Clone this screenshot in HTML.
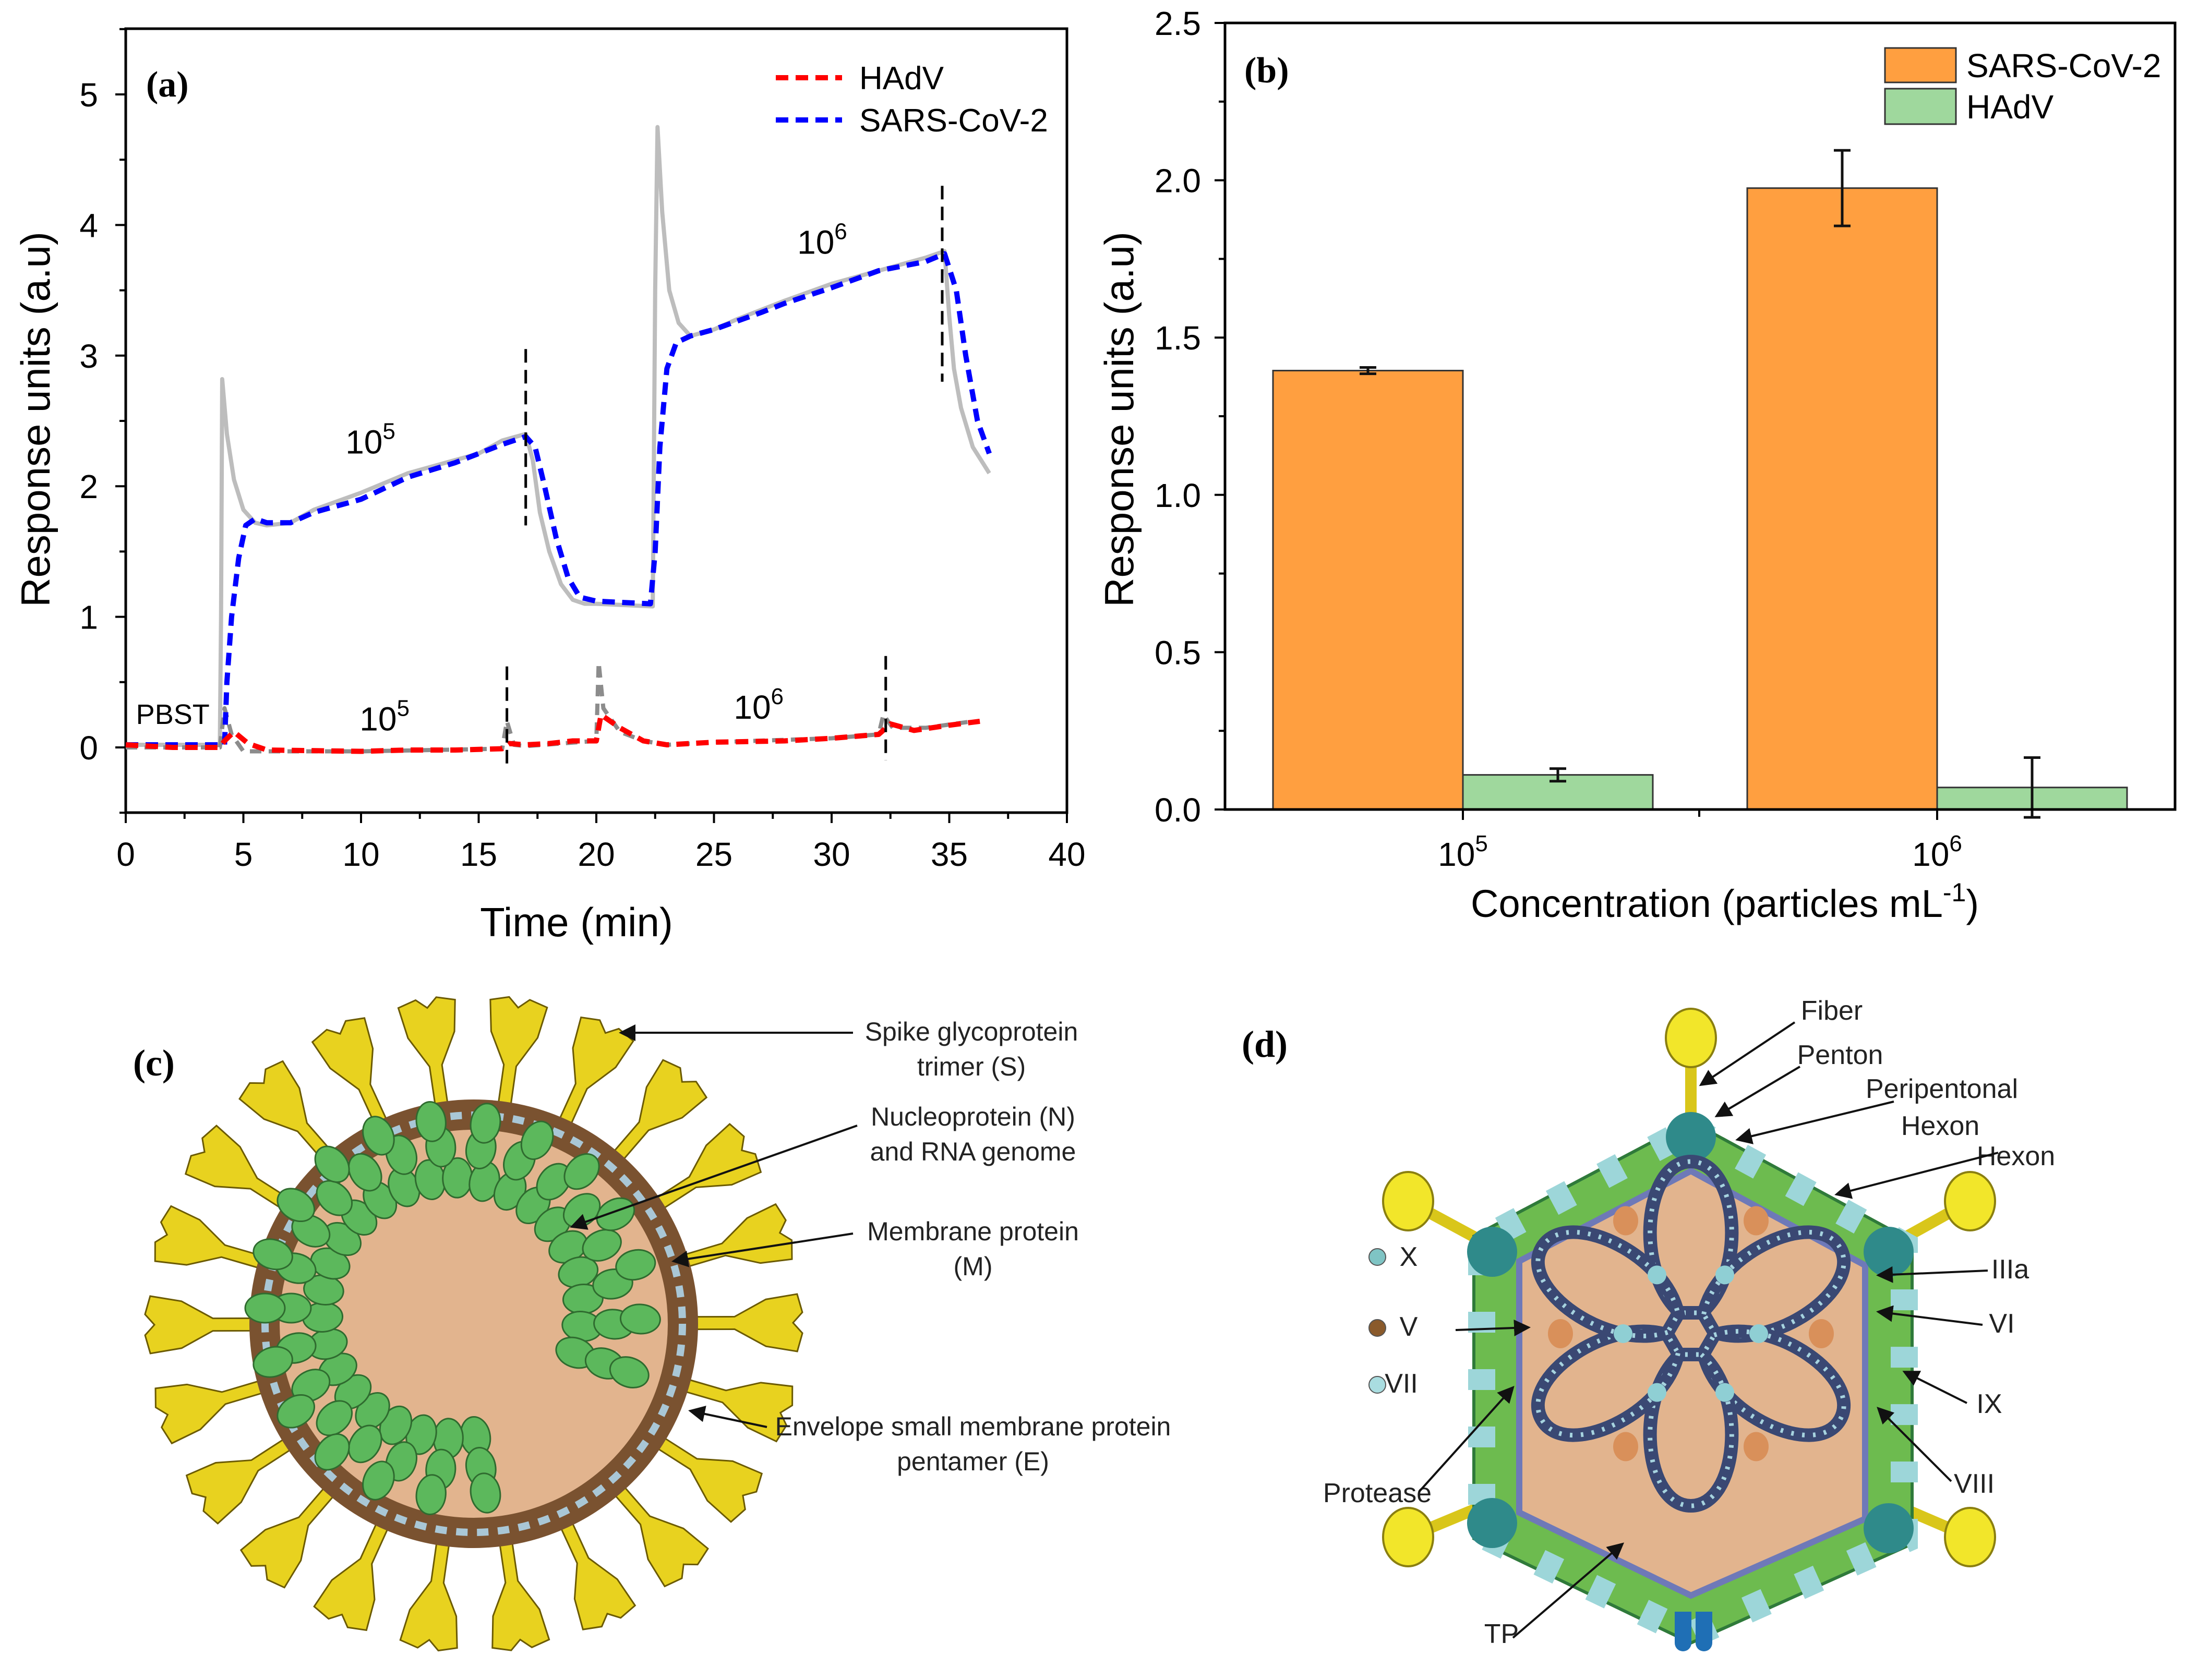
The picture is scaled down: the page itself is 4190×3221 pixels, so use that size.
<!DOCTYPE html>
<html><head><meta charset="utf-8"><style>
html,body{margin:0;padding:0;background:#fff;}
svg{display:block;}
text{font-family:"Liberation Sans",sans-serif;}
.ser{font-family:"Liberation Serif",serif;}
.nar{font-family:"Liberation Sans Narrow","Liberation Sans",sans-serif;}
</style></head><body>
<svg id="fig" xmlns="http://www.w3.org/2000/svg" width="4190" height="3221" viewBox="0 0 4190 3221">
<g id="pa"></g>
<g id="pb"></g>
<g id="pc"></g>
<g id="pd"></g>
</svg>
<script>
// ---------- Panel A data ----------
const xTicksA=[0,5,10,15,20,25,30,35,40];
const yTicksA=[0,1,2,3,4,5];
const sarsRawT=[0,2,4,4.05,4.1,4.3,4.6,5.0,5.5,6,7,8,10,12,14,15,16,17,17.3,17.6,18,18.5,19,19.5,20,22.4,22.5,22.6,22.8,23.1,23.5,24,25,26,27,28,30,32,34,34.8,35,35.2,35.5,36,36.7];
const sarsRawV=[0.02,0.02,0.02,1.0,2.82,2.4,2.05,1.82,1.72,1.70,1.72,1.82,1.95,2.1,2.2,2.25,2.35,2.4,2.2,1.8,1.5,1.25,1.13,1.1,1.1,1.08,3.5,4.75,4.1,3.5,3.25,3.15,3.2,3.28,3.35,3.42,3.55,3.65,3.75,3.8,3.3,2.9,2.6,2.3,2.1];
const sarsT=[0,2,4.2,4.3,4.5,4.8,5.1,5.5,6,7,8,10,12,14,15,16,17,17.4,17.8,18.3,18.8,19.3,20,22.3,22.5,22.7,23,23.4,24,25,27,28,30,32,34,34.8,35.3,35.7,36.2,36.7];
const sarsV=[0.02,0.02,0.02,0.5,1.0,1.45,1.7,1.75,1.72,1.72,1.8,1.9,2.07,2.18,2.25,2.32,2.38,2.3,2.0,1.6,1.3,1.15,1.12,1.1,1.5,2.3,2.9,3.1,3.15,3.2,3.33,3.4,3.52,3.65,3.72,3.78,3.5,3.0,2.5,2.25];
const hadvT=[0,2,4,4.2,4.6,5.2,6,10,12,14,16,16.3,17,18,19,20,20.2,21,22,23,25,28,30,32,32.5,33.5,35,36.3];
const hadvV=[0.02,0.0,0.0,0.05,0.12,0.03,-0.02,-0.03,-0.02,-0.02,-0.01,0.03,0.02,0.03,0.05,0.05,0.25,0.15,0.05,0.02,0.04,0.05,0.07,0.1,0.18,0.13,0.17,0.2];
const hadvRawT=[0,4.0,4.2,4.5,5,6,10,16,16.2,16.5,17,20,20.1,20.3,21,22,23,25,30,32,32.2,32.6,34,36];
const hadvRawV=[0.0,0.0,0.3,0.1,-0.03,-0.03,-0.03,-0.01,0.2,0.02,0.01,0.05,0.65,0.3,0.12,0.05,0.02,0.04,0.07,0.1,0.25,0.15,0.15,0.2];
const markerX=[17.0,34.7,16.2,32.3];
const markerLo=[1.7,2.8,-0.15,-0.1];
const markerHi=[3.05,4.3,0.62,0.7];
// ---------- Panel B data ----------
const catsB=["5","6"];
const sarsBar=[1.395,1.975];
const sarsErr=[0.01,0.12];
const hadvBar=[0.11,0.07];
const hadvErr=[0.02,0.095];
const yTicksB=["0.0","0.5","1.0","1.5","2.0","2.5"];

const NS="http://www.w3.org/2000/svg";
function mk(parent,tag,attrs,txt){const e=document.createElementNS(NS,tag);for(const k in attrs)e.setAttribute(k,attrs[k]);if(txt!==undefined)e.textContent=txt;parent.appendChild(e);return e;}

// ===== Panel A =====
(function(){
const g=document.getElementById('pa');
const L=241,R=2045,T=55,B=1558;
const xa=t=>L+t*(R-L)/40;
const ya=v=>1433-v*250.4;
let e=mk(g,'rect',{x:L,y:T,width:R-L,height:B-T,fill:'none',stroke:'#000','stroke-width':5});

for(let t=0;t<=40;t+=2.5){const maj=t%5===0;e=mk(g,'line',{x1:xa(t),x2:xa(t),y1:B,y2:B+(maj?20:12),stroke:'#000','stroke-width':4});}
for(let v=-0.5;v<=5.5;v+=0.5){const maj=Math.abs(v-Math.round(v))<1e-6;e=mk(g,'line',{x1:L,x2:L-(maj?20:12),y1:ya(v),y2:ya(v),stroke:'#000','stroke-width':4});}
xTicksA.forEach(t=>{e=mk(g,'text',{x:xa(t),y:1660,'font-size':64,'text-anchor':'middle'},String(t));});
yTicksA.forEach(v=>{e=mk(g,'text',{x:188,y:ya(v)+23,'font-size':64,'text-anchor':'end'},String(v));});
e=mk(g,'text',{x:1105,y:1795,'font-size':78,'text-anchor':'middle'},'Time (min)');
e=mk(g,'text',{x:0,y:0,'font-size':78,'text-anchor':'middle',transform:'translate(95,804) rotate(-90)'},'Response units (a.u)');
function path(T_,V_,attrs,name){const d=T_.map((t,i)=>(i?'L':'M')+xa(t).toFixed(1)+' '+ya(V_[i]).toFixed(1)).join(' ');const p=mk(g,'path',Object.assign({d:d,fill:'none','stroke-linejoin':'round'},attrs));}
path(sarsRawT,sarsRawV,{stroke:'#bdbdbd','stroke-width':8},'sars-raw-line');
path(hadvRawT,hadvRawV,{stroke:'#8c8c8c','stroke-width':8,'stroke-dasharray':'22 14'},'hadv-raw-line');
path(sarsT,sarsV,{stroke:'#0000ff','stroke-width':10,'stroke-dasharray':'24 14'},'sars-cov-2-line');
path(hadvT,hadvV,{stroke:'#ff0000','stroke-width':10,'stroke-dasharray':'24 14'},'hadv-line');
markerX.forEach((x,i)=>{e=mk(g,'line',{x1:xa(x),x2:xa(x),y1:ya(markerHi[i]),y2:ya(markerLo[i]),stroke:'#000','stroke-width':5,'stroke-dasharray':'26 14'});});
function sup(x,y,s,name){const t=mk(g,'text',{x:x,y:y,'font-size':64,'text-anchor':'middle'});mk(t,'tspan',{},'10');mk(t,'tspan',{'font-size':44,dy:-28},s);}
sup(xa(10.4),ya(2.25),'5','annotation-1e5-sars');
sup(xa(29.6),ya(3.78),'6','annotation-1e6-sars');
sup(xa(11.0),ya(0.13),'5','annotation-1e5-hadv');
sup(xa(26.9),ya(0.22),'6','annotation-1e6-hadv');
e=mk(g,'text',{x:xa(2.0),y:ya(0.18),'font-size':54,'text-anchor':'middle'},'PBST');
e=mk(g,'text',{x:280,y:185,'font-size':70,'font-weight':'bold','class':'ser'},'(a)');
e=mk(g,'line',{x1:1487,x2:1614,y1:149,y2:149,stroke:'#ff0000','stroke-width':10,'stroke-dasharray':'24 14'});
e=mk(g,'text',{x:1647,y:171,'font-size':62},'HAdV');
e=mk(g,'line',{x1:1487,x2:1614,y1:230,y2:230,stroke:'#0000ff','stroke-width':10,'stroke-dasharray':'24 14'});
e=mk(g,'text',{x:1647,y:252,'font-size':62},'SARS-CoV-2');
})();

// ===== Panel B =====
(function(){
const g=document.getElementById('pb');
const L=2348,R=4169,T=44,B=1552;
const yb=v=>B-v*603.2;
const xc=i=>2804+i*909;
const bw=364;
let e;
catsB.forEach((c,i)=>{
 e=mk(g,'rect',{x:xc(i)-bw,y:yb(sarsBar[i]),width:bw,height:B-yb(sarsBar[i]),fill:'#ff9f40',stroke:'#333','stroke-width':3});
 e=mk(g,'rect',{x:xc(i),y:yb(hadvBar[i]),width:bw,height:B-yb(hadvBar[i]),fill:'#9fd89d',stroke:'#333','stroke-width':3});
 const ex=[xc(i)-bw/2,xc(i)+bw/2],ev=[sarsBar[i],hadvBar[i]],ee=[sarsErr[i],hadvErr[i]];
 for(let k=0;k<2;k++){const top=yb(ev[k]+ee[k]),bot=yb(ev[k]-ee[k]);
  e=mk(g,'path',{d:`M${ex[k]} ${top}V${bot}M${ex[k]-16} ${top}H${ex[k]+16}M${ex[k]-16} ${bot}H${ex[k]+16}`,stroke:'#111','stroke-width':5,fill:'none'});}
 e=mk(g,'line',{x1:xc(i),x2:xc(i),y1:B,y2:B+20,stroke:'#000','stroke-width':4});
 const t=mk(g,'text',{x:xc(i),y:1660,'font-size':64,'text-anchor':'middle'});mk(t,'tspan',{},'10');mk(t,'tspan',{'font-size':44,dy:-28},c);
});
e=mk(g,'line',{x1:3257,x2:3257,y1:B,y2:B+14,stroke:'#000','stroke-width':4});
e=mk(g,'rect',{x:L,y:T,width:R-L,height:B-T,fill:'none',stroke:'#000','stroke-width':5});
for(let v=0;v<=2.5001;v+=0.25){const maj=Math.abs(v*2-Math.round(v*2))<1e-6;e=mk(g,'line',{x1:L,x2:L-(maj?20:12),y1:yb(v),y2:yb(v),stroke:'#000','stroke-width':4});}
yTicksB.forEach(s=>{e=mk(g,'text',{x:2302,y:yb(parseFloat(s))+23,'font-size':64,'text-anchor':'end'},s);});
e=mk(g,'text',{x:0,y:0,'font-size':78,'text-anchor':'middle',transform:'translate(2172,804) rotate(-90)'},'Response units (a.u)');
const xt=mk(g,'text',{x:3306,y:1758,'font-size':74,'text-anchor':'middle'});mk(xt,'tspan',{},'Concentration (particles mL');mk(xt,'tspan',{'font-size':50,dy:-30},'-1');mk(xt,'tspan',{dy:30},')');
e=mk(g,'text',{x:2385,y:158,'font-size':70,'font-weight':'bold','class':'ser'},'(b)');
e=mk(g,'rect',{x:3613,y:92,width:136,height:66,fill:'#ff9f40',stroke:'#333','stroke-width':3});
e=mk(g,'text',{x:3769,y:148,'font-size':64},'SARS-CoV-2');
e=mk(g,'rect',{x:3613,y:170,width:136,height:68,fill:'#9fd89d',stroke:'#333','stroke-width':3});
e=mk(g,'text',{x:3769,y:227,'font-size':64},'HAdV');
})();

// ===== Panel C (illustration) =====
(function(){
const g=document.getElementById('pc');
const cx=908,cy=2538;let e;
e=mk(g,'text',{x:255,y:2062,'font-size':72,'font-weight':'bold','class':'ser'},'(c)');
for(let k=0;k<22;k++){const a=k*360/22-90+8;
 e=mk(g,'path',{d:'M-12 425 L-12 500 L-45 560 L-55 620 L-20 630 L0 612 L20 630 L55 620 L45 560 L12 500 L12 425 Z',fill:'#e8d21f',stroke:'#6b5a00','stroke-width':3,transform:`translate(${cx},${cy}) rotate(${a-90})`});
 }
e=mk(g,'circle',{cx:cx,cy:cy,r:430,fill:'#7a5230'});
e=mk(g,'circle',{cx:cx,cy:cy,r:400,fill:'none',stroke:'#a9c7d6','stroke-width':14,'stroke-dasharray':'22 18'});
e=mk(g,'circle',{cx:cx,cy:cy,r:372,fill:'#e2b48e'});
[[250,26],[310,22],[360,19]].forEach(([r,n])=>{
 for(let i=0;i<n;i++){const a=(80+i*(300/(n-1)))*Math.PI/180;
  const x=cx+r*Math.cos(a)-40,y=cy+r*Math.sin(a)-30;
  e=mk(g,'ellipse',{cx:x.toFixed(1),cy:y.toFixed(1),rx:28,ry:38,fill:'#5cb85c',stroke:'#2f6b2f','stroke-width':3,transform:`rotate(${(a*180/Math.PI+90).toFixed(1)} ${x.toFixed(1)} ${y.toFixed(1)})`});
  }});
const labels=[[1862,1995,'Spike glycoprotein'],[1862,2062,'trimer (S)'],[1865,2158,'Nucleoprotein (N)'],[1865,2225,'and RNA genome'],[1865,2378,'Membrane protein'],[1865,2445,'(M)'],[1865,2752,'Envelope small membrane protein'],[1865,2819,'pentamer (E)']];
labels.forEach(l=>{e=mk(g,'text',{x:l[0],y:l[1],'font-size':50,'text-anchor':'middle','class':'nar',fill:'#222'},l[2]);});
mk(g,'defs',{}).innerHTML='<marker id="ah" markerWidth="8" markerHeight="8" refX="7" refY="4" orient="auto" markerUnits="strokeWidth"><path d="M0 0L8 4L0 8Z" fill="#111"/></marker>';
[[1635,1980,1190,1980],[1643,2158,1096,2352],[1635,2365,1291,2418],[1470,2736,1323,2705]].forEach(a=>{e=mk(g,'line',{x1:a[0],y1:a[1],x2:a[2],y2:a[3],stroke:'#111','stroke-width':4,'marker-end':'url(#ah)'});});
})();

// ===== Panel D (illustration) =====
(function(){
const g=document.getElementById('pd');let e;
const cx=3241,cy=2557;
e=mk(g,'text',{x:2380,y:2026,'font-size':72,'font-weight':'bold','class':'ser'},'(d)');
const knobs=[[3241,1990],[2699,2303],[3776,2303],[2699,2947],[3776,2947]];
const bases=[[3241,2160],[2860,2390],[3620,2390],[2860,2880],[3620,2880]];
knobs.forEach((k,i)=>{e=mk(g,'line',{x1:bases[i][0],y1:bases[i][1],x2:k[0],y2:k[1],stroke:'#d9c61a','stroke-width':22});
 e=mk(g,'ellipse',{cx:k[0],cy:k[1],rx:48,ry:56,fill:'#f2e62a',stroke:'#8a7f10','stroke-width':4});});
e=mk(g,'polygon',{points:'3241,2150 3665,2380 3665,2960 3241,3150 2825,2950 2825,2370',fill:'#6dbb4f',stroke:'#2f7a3a','stroke-width':6});
e=mk(g,'polygon',{points:'3241,2165 3650,2388 3650,2952 3241,3135 2840,2942 2840,2378',fill:'none',stroke:'#9dd6d9','stroke-width':52,'stroke-dasharray':'40 70'});
e=mk(g,'polygon',{points:'3241,2245 3575,2426 3575,2912 3241,3059 2912,2900 2912,2418',fill:'#e2b48e',stroke:'#6e79b8','stroke-width':12});
[[3241,2180],[3620,2400],[3620,2930],[2860,2920],[2860,2400]].forEach(p=>{e=mk(g,'circle',{cx:p[0],cy:p[1],r:48,fill:'#2f8a8a'});});
e=mk(g,'path',{d:'M3210 3090 v60 a16 16 0 0 0 32 0 v-60 Z M3250 3090 v60 a16 16 0 0 0 32 0 v-60 Z',fill:'#1f6fb5'});
for(let k=0;k<6;k++){const a=-90+k*60;
 const d='M-20 -40 C -110 -120 -90 -330 0 -330 C 90 -330 110 -120 20 -40 Z';
 e=mk(g,'path',{d:d,fill:'none',stroke:'#3a4873','stroke-width':26,transform:`translate(${cx},${cy}) rotate(${a+90})`});
 e=mk(g,'path',{d:d,fill:'none',stroke:'#a6d3df','stroke-width':9,'stroke-dasharray':'5 16',transform:`translate(${cx},${cy}) rotate(${a+90})`});}
for(let k=0;k<6;k++){const a=(-60+k*60)*Math.PI/180;
 e=mk(g,'ellipse',{cx:(cx+250*Math.cos(a)).toFixed(1),cy:(cy+250*Math.sin(a)).toFixed(1),rx:24,ry:28,fill:'#d9905a'});
 e=mk(g,'circle',{cx:(cx+130*Math.cos(a)).toFixed(1),cy:(cy+130*Math.sin(a)).toFixed(1),r:18,fill:'#8fcfd4'});}
const dl=[[3511,1955,'Fiber'],[3527,2040,'Penton'],[3722,2105,'Peripentonal'],[3719,2176,'Hexon'],[3864,2234,'Hexon'],[3853,2451,'IIIa'],[3837,2555,'VI'],[3813,2709,'IX'],[3784,2862,'VIII'],[2700,2427,'X'],[2700,2561,'V'],[2686,2670,'VII'],[2640,2880,'Protease'],[2878,3150,'TP']];
dl.forEach(l=>{e=mk(g,'text',{x:l[0],y:l[1],'font-size':52,'text-anchor':'middle','class':'nar',fill:'#222'},l[2]);});
[[2640,2410,'#7fc4c4'],[2640,2546,'#8a5a2b'],[2640,2655,'#a9dde0']].forEach(c=>{e=mk(g,'circle',{cx:c[0],cy:c[1],r:16,fill:c[2],stroke:'#555','stroke-width':2});});
[[3440,1960,3260,2080],[3450,2045,3290,2140],[3630,2112,3330,2185],[3830,2210,3520,2290],[3810,2436,3600,2445],[3800,2540,3600,2515],[3770,2690,3650,2630],[3740,2840,3600,2700],[2790,2550,2930,2545],[2720,2860,2900,2660],[2900,3140,3110,2960]].forEach(a=>{e=mk(g,'line',{x1:a[0],y1:a[1],x2:a[2],y2:a[3],stroke:'#111','stroke-width':4,'marker-end':'url(#ah)'});});
})();
</script>
</body></html>
